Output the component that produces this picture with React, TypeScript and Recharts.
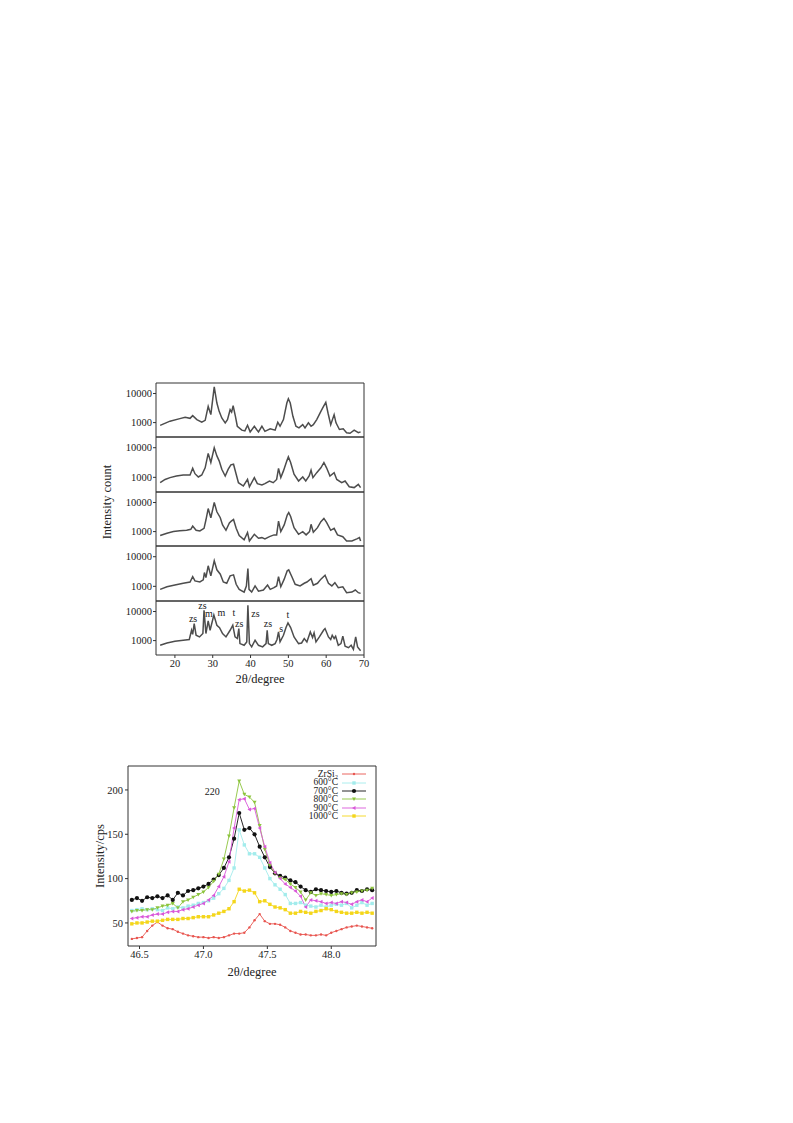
import React from "react";
import {
  LineChart,
  Line,
  XAxis,
  YAxis,
  ReferenceArea,
  ReferenceDot,
  Legend,
} from "recharts";

const serif = "'Liberation Serif', 'Times New Roman', serif";

// XRD scans, top panel to bottom panel: [2θ, counts]
const scan1: [number, number][] = [
  [16.1, 800], [18.7, 1120], [21.3, 1370], [22.7, 1520], [24.0, 1400], [24.7, 1740],
  [25.8, 1270], [27.1, 1030], [28.0, 1200], [28.8, 3600], [29.5, 1880], [30.4, 17000],
  [31.1, 4700], [31.7, 2440], [32.4, 1440], [33.3, 980], [33.9, 1270], [34.6, 2780],
  [35.0, 2300], [35.4, 3800], [36.0, 1650], [36.5, 750], [37.7, 550], [38.5, 520],
  [39.2, 810], [39.9, 480], [41.0, 750], [41.6, 580], [42.1, 480], [43.0, 750],
  [43.8, 500], [45.2, 610], [46.5, 550], [47.2, 1030], [47.8, 750], [48.7, 1270],
  [49.6, 4700], [50.0, 6600], [50.5, 4700], [51.2, 1650], [52.0, 750], [52.8, 660],
  [53.8, 850], [54.4, 660], [55.3, 980], [56.0, 750], [56.6, 850], [57.5, 1270],
  [58.6, 2440], [59.3, 3600], [59.9, 5000], [60.5, 2100], [61.2, 850], [62.1, 1880],
  [62.6, 980], [63.5, 580], [64.5, 610], [65.4, 450], [66.3, 430], [67.4, 550],
  [68.5, 450], [69.1, 480],
];

const scan2: [number, number][] = [
  [16.1, 660], [17.4, 850], [18.7, 980], [20.4, 1110], [22.2, 1200], [24.0, 1200],
  [24.7, 2030], [25.3, 1330], [26.2, 1030], [27.1, 1200], [28.0, 2100], [28.8, 6400],
  [29.5, 3170], [30.4, 10000], [31.1, 5300], [31.7, 3600], [32.4, 1880], [33.3, 1110],
  [34.1, 1880], [34.8, 2630], [35.5, 2780], [36.2, 1270], [36.8, 660], [38.1, 510],
  [39.2, 850], [39.7, 480], [41.0, 980], [41.8, 610], [43.0, 550], [43.8, 610],
  [45.0, 750], [46.0, 660], [46.9, 850], [47.4, 1990], [48.0, 980], [48.7, 1650],
  [49.6, 3600], [50.0, 4900], [50.6, 3170], [51.5, 1270], [52.7, 750], [53.8, 1030],
  [54.6, 750], [55.5, 1110], [56.0, 1740], [56.5, 980], [57.5, 1440], [58.6, 2100],
  [59.4, 3170], [60.1, 2100], [61.0, 1110], [62.1, 1440], [62.8, 850], [64.1, 660],
  [65.0, 750], [66.1, 480], [67.4, 450], [68.5, 580], [69.1, 450],
];

const scan3: [number, number][] = [
  [16.1, 730], [17.9, 880], [19.6, 1000], [21.3, 1080], [23.1, 1110], [24.2, 1200],
  [24.7, 1550], [25.6, 1110], [26.6, 1050], [27.7, 1300], [28.2, 2500], [28.8, 6200],
  [29.5, 3000], [30.4, 10000], [31.1, 4800], [32.0, 3000], [32.6, 1700], [33.5, 1110],
  [34.4, 2000], [34.9, 2300], [35.5, 2600], [36.2, 1300], [37.0, 730], [38.3, 520],
  [39.2, 930], [39.7, 480], [41.0, 810], [42.1, 590], [43.0, 620], [43.8, 560],
  [45.0, 670], [46.2, 770], [46.9, 770], [47.4, 2300], [48.0, 1000], [48.9, 1700],
  [49.7, 3700], [50.1, 4500], [50.6, 3300], [51.5, 1370], [52.7, 810], [53.8, 1000],
  [54.7, 770], [55.6, 1000], [56.0, 1780], [56.6, 950], [57.7, 1370], [58.6, 2200],
  [59.4, 2850], [60.1, 2080], [61.2, 1110], [62.1, 1300], [63.0, 770], [64.4, 670],
  [65.4, 480], [66.8, 480], [68.1, 560], [68.8, 620], [69.1, 480],
];

const scan4: [number, number][] = [
  [16.1, 790], [17.9, 970], [20.0, 1110], [22.2, 1270], [24.0, 1400], [24.7, 2140],
  [25.3, 1520], [26.6, 1400], [27.5, 1650], [27.8, 2930], [28.2, 1970], [28.8, 4940],
  [29.5, 2250], [30.4, 7300], [31.1, 3610], [32.0, 2570], [32.8, 1400], [33.7, 1270],
  [34.6, 2250], [35.5, 2440], [36.2, 1170], [37.0, 790], [38.3, 640], [38.9, 1030],
  [39.3, 4000], [39.6, 790], [40.3, 640], [41.2, 1030], [42.1, 690], [43.4, 750],
  [44.5, 1100], [45.2, 790], [46.2, 900], [46.9, 1030], [47.4, 2140], [48.0, 970],
  [48.9, 1750], [49.7, 3340], [50.1, 3610], [50.9, 2140], [51.8, 1170], [53.1, 1030],
  [54.2, 1270], [54.9, 1400], [56.0, 1820], [56.6, 1100], [57.7, 1270], [58.6, 1750],
  [59.7, 2370], [60.6, 1270], [61.5, 1030], [62.3, 1330], [63.2, 900], [64.4, 970],
  [65.4, 610], [66.8, 640], [67.7, 750], [68.5, 610], [69.1, 580],
];

const scan5: [number, number][] = [
  [16.1, 690], [17.9, 830], [20.0, 950], [22.2, 1030], [23.8, 1090], [24.4, 2270],
  [24.7, 1650], [25.1, 3860], [25.6, 1530], [26.5, 1340], [27.4, 1750], [27.7, 11000],
  [28.2, 1750], [28.8, 4770], [29.3, 2270], [30.3, 7500], [31.1, 3380], [31.8, 2800],
  [32.6, 1750], [33.5, 1340], [34.6, 2270], [35.3, 3380], [35.9, 1340], [36.5, 1180],
  [36.9, 2590], [37.2, 790], [38.3, 690], [39.0, 900], [39.3, 16500], [39.7, 790],
  [40.3, 610], [41.2, 1030], [42.1, 690], [43.2, 610], [44.1, 790], [44.4, 2270],
  [44.7, 790], [45.6, 690], [46.5, 790], [47.0, 1090], [47.4, 1990], [47.8, 900],
  [48.7, 1530], [49.4, 2900], [49.9, 4070], [50.6, 2800], [51.5, 1340], [52.7, 790],
  [53.5, 830], [54.2, 1180], [54.9, 900], [55.8, 1990], [56.4, 1270], [56.8, 1840],
  [57.3, 900], [58.2, 1340], [59.3, 2270], [59.7, 2590], [60.6, 1340], [61.2, 1090],
  [61.6, 1530], [62.1, 1180], [62.5, 1420], [63.2, 690], [63.9, 790], [64.4, 1420],
  [65.0, 640], [65.9, 570], [66.6, 690], [67.2, 500], [67.8, 1340], [68.3, 610],
  [69.1, 450],
];

const scans = [scan1, scan2, scan3, scan4, scan5];

// phase labels on the bottom scan
const peakNotes = [
  { theta: 24.8, count: 6000, text: "zs" },
  { theta: 27.3, count: 16500, text: "zs" },
  { theta: 29.0, count: 8800, text: "m" },
  { theta: 32.3, count: 9000, text: "m" },
  { theta: 35.6, count: 9000, text: "t" },
  { theta: 37.0, count: 3750, text: "zs" },
  { theta: 41.3, count: 8300, text: "zs" },
  { theta: 44.6, count: 3750, text: "zs" },
  { theta: 48.1, count: 2520, text: "s" },
  { theta: 49.9, count: 7700, text: "t" },
];

const xrdTicks = [20, 30, 40, 50, 60, 70];
const countTicks = [1000, 10000];

// (220) peak at several annealing temperatures
const peakTheta = [
  46.44, 46.48, 46.52, 46.56, 46.6, 46.64, 46.68, 46.72, 46.76, 46.8, 46.84, 46.88,
  46.92, 46.96, 47.0, 47.04, 47.08, 47.12, 47.16, 47.2, 47.24, 47.28, 47.32, 47.36,
  47.4, 47.44, 47.48, 47.52, 47.56, 47.6, 47.64, 47.68, 47.72, 47.76, 47.8, 47.84,
  47.88, 47.92, 47.96, 48.0, 48.04, 48.08, 48.12, 48.16, 48.2, 48.24, 48.28, 48.32,
];
const zrsi2 = [
  32, 33, 34, 41, 47, 51, 47, 44, 43, 40, 38, 36, 35, 34, 34, 33, 34, 33, 34, 36,
  38, 38, 39, 45, 53, 60, 52, 49, 49, 48, 45, 41, 39, 37, 37, 36, 36, 37, 36, 39,
  41, 43, 45, 46, 47, 46, 45, 44,
];
const t600 = [
  64, 65, 66, 65, 66, 65, 64, 67, 66, 68, 67, 69, 70, 72, 73, 75, 78, 83, 89, 98,
  112, 155, 138, 128, 128, 124, 112, 100, 93, 88, 82, 72, 72, 73, 70, 69, 68, 70, 68, 70,
  71, 70, 72, 67, 70, 73, 70, 72,
];
const t700 = [
  76, 78, 75, 79, 78, 80, 78, 81, 76, 84, 81, 86, 87, 89, 91, 94, 99, 104, 112, 124,
  145, 174, 155, 157, 150, 136, 124, 113, 106, 103, 101, 98, 96, 91, 87, 85, 88, 87, 86, 85,
  86, 84, 83, 84, 87, 86, 88, 87,
];
const t800 = [
  63, 64, 64, 65, 65, 67, 69, 70, 72, 67, 74, 76, 79, 82, 85, 90, 97, 105, 122, 148,
  180, 210, 195, 192, 186, 160, 133, 115, 106, 101, 99, 94, 90, 85, 76, 84, 81, 83, 82, 81,
  82, 83, 82, 84, 85, 86, 87, 89,
];
const t900 = [
  55, 56, 57, 57, 59, 60, 60, 62, 63, 63, 65, 66, 68, 70, 72, 76, 81, 91, 102, 119,
  157, 189, 190, 178, 179, 157, 136, 118, 107, 100, 94, 90, 86, 80, 68, 76, 75, 74, 72, 73,
  72, 74, 73, 71, 74, 76, 74, 78,
];
const t1000 = [
  49, 50, 50, 51, 52, 52, 53, 54, 54, 54, 55, 55, 56, 57, 57, 57, 59, 61, 63, 66,
  74, 88, 86, 87, 84, 74, 75, 71, 68, 67, 65, 61, 61, 63, 62, 61, 63, 64, 66, 65,
  63, 62, 61, 61, 62, 61, 62, 61,
];
const peakLabel = { theta: 47.07, value: 198, text: "220" };

const tempSeries = [
  { key: "zrsi2", name: "ZrSi\u2082", values: zrsi2, color: "#e8554f", shape: "dot" },
  { key: "t600", name: "600°C", values: t600, color: "#a3ecec", shape: "square" },
  { key: "t700", name: "700°C", values: t700, color: "#111111", shape: "circle" },
  { key: "t800", name: "800°C", values: t800, color: "#8cc43c", shape: "down" },
  { key: "t900", name: "900°C", values: t900, color: "#d957d9", shape: "left" },
  { key: "t1000", name: "1000°C", values: t1000, color: "#f4d61a", shape: "square" },
];

const peakRows = peakTheta.map((theta, i) => {
  const row: Record<string, number> = { theta };
  tempSeries.forEach((s) => {
    row[s.key] = s.values[i];
  });
  return row;
});

const PANEL_TOPS = [383, 437, 492, 546, 601, 655];

function drawMarker(shape: string, color: string, cx: number, cy: number, k?: React.Key) {
  switch (shape) {
    case "dot":
      return <circle key={k} cx={cx} cy={cy} r={1.2} fill={color} />;
    case "circle":
      return <circle key={k} cx={cx} cy={cy} r={2.1} fill={color} />;
    case "square":
      return <rect key={k} x={cx - 1.7} y={cy - 1.7} width={3.4} height={3.4} fill={color} />;
    case "down":
      return (
        <polygon key={k} points={`${cx - 2},${cy - 1.5} ${cx + 2},${cy - 1.5} ${cx},${cy + 2}`} fill={color} />
      );
    default:
      return (
        <polygon key={k} points={`${cx + 1.5},${cy - 2} ${cx + 1.5},${cy + 2} ${cx - 2},${cy}`} fill={color} />
      );
  }
}

function markerFor(shape: string, color: string) {
  return (props: any) => {
    const { cx, cy, index } = props;
    if (cx == null || cy == null) return <g key={index} />;
    return drawMarker(shape, color, cx, cy, index);
  };
}

function TempLegend() {
  return (
    <div style={{ fontFamily: serif, fontSize: 9.5, color: "#222" }}>
      {tempSeries.map((s) => (
        <div key={s.key} style={{ display: "flex", alignItems: "center", height: 8.4 }}>
          <span style={{ width: 46, textAlign: "right", lineHeight: "8.4px", whiteSpace: "nowrap" }}>
            {s.name}
          </span>
          <svg width={28} height={8} style={{ marginLeft: 4 }}>
            <line x1={0} x2={24} y1={4} y2={4} stroke={s.color} strokeWidth={0.9} />
            {drawMarker(s.shape, s.color, 12, 4)}
          </svg>
        </div>
      ))}
    </div>
  );
}

function XrdPanel({ index }: { index: number }) {
  const last = index === scans.length - 1;
  const top = PANEL_TOPS[index];
  const plotH = PANEL_TOPS[index + 1] - top;
  const axisH = last ? 34 : 4;
  const data = scans[index].map(([theta, count]) => ({ theta, count }));
  return (
    <div style={{ position: "absolute", left: 109, top: top - 1 }}>
      <LineChart
        width={261}
        height={1 + plotH + axisH}
        data={data}
        margin={{ top: 1, right: 6, bottom: 0, left: 0 }}
      >
        <XAxis
          dataKey="theta"
          type="number"
          domain={[15, 70]}
          ticks={xrdTicks}
          allowDataOverflow
          height={axisH}
          axisLine={false}
          tickLine={{ stroke: "#333" }}
          tickSize={3}
          tick={last ? { fontSize: 10.5, fill: "#222", fontFamily: serif } : false}
          label={
            last
              ? {
                  value: "2θ/degree",
                  position: "insideBottom",
                  offset: 6,
                  style: { fontSize: 12.5, fill: "#222", fontFamily: serif },
                }
              : undefined
          }
        />
        <YAxis
          type="number"
          scale="log"
          domain={[320, 23000]}
          allowDataOverflow
          ticks={countTicks}
          width={47}
          axisLine={false}
          tickLine={{ stroke: "#333" }}
          tickSize={3}
          tickMargin={1}
          tick={{ fontSize: 10.5, fill: "#222", fontFamily: serif }}
        />
        <ReferenceArea
          x1={15}
          x2={70}
          y1={320}
          y2={23000}
          fill="none"
          stroke="#333"
          strokeWidth={1}
          ifOverflow="visible"
        />
        <Line
          dataKey="count"
          type="linear"
          stroke="#4d4d4d"
          strokeWidth={1.5}
          dot={false}
          isAnimationActive={false}
        />
        {last &&
          peakNotes.map((n, i) => (
            <ReferenceDot
              key={i}
              x={n.theta}
              y={n.count}
              r={0}
              stroke="none"
              label={{
                value: n.text,
                position: "center",
                style: { fontSize: 10, fill: "#222", fontFamily: serif },
              }}
            />
          ))}
      </LineChart>
    </div>
  );
}

export default function App() {
  return (
    <div style={{ position: "absolute", left: 0, top: 0, width: 793, height: 1123, fontFamily: serif }}>
      {scans.map((_, i) => (
        <XrdPanel key={i} index={i} />
      ))}
      <div
        style={{
          position: "absolute",
          left: 107,
          top: 502,
          transform: "translate(-50%, -50%) rotate(-90deg)",
          whiteSpace: "nowrap",
          fontSize: 12.5,
          color: "#222",
        }}
      >
        Intensity count
      </div>

      <div style={{ position: "absolute", left: 88, top: 764 }}>
        <LineChart
          width={290}
          height={218}
          data={peakRows}
          margin={{ top: 2, right: 2, bottom: 0, left: 0 }}
        >
          <XAxis
            dataKey="theta"
            type="number"
            domain={[46.41, 48.35]}
            ticks={[46.5, 47, 47.5, 48]}
            tickFormatter={(v: number) => v.toFixed(1)}
            allowDataOverflow
            height={36}
            axisLine={false}
            tickLine={{ stroke: "#333" }}
            tickSize={3}
            tick={{ fontSize: 10.5, fill: "#222", fontFamily: serif }}
            label={{
              value: "2θ/degree",
              position: "insideBottom",
              offset: 6,
              style: { fontSize: 12.5, fill: "#222", fontFamily: serif },
            }}
          />
          <YAxis
            type="number"
            domain={[24, 227]}
            ticks={[50, 100, 150, 200]}
            allowDataOverflow
            width={40}
            axisLine={false}
            tickLine={{ stroke: "#333" }}
            tickSize={3}
            tickMargin={2}
            tick={{ fontSize: 10.5, fill: "#222", fontFamily: serif }}
            label={{
              value: "Intensity/cps",
              angle: -90,
              position: "insideLeft",
              offset: 12,
              style: { fontSize: 12.5, fill: "#222", fontFamily: serif, textAnchor: "middle" },
            }}
          />
          <ReferenceArea
            x1={46.41}
            x2={48.35}
            y1={24}
            y2={227}
            fill="none"
            stroke="#333"
            strokeWidth={1}
            ifOverflow="visible"
          />
          {tempSeries.map((s) => (
            <Line
              key={s.key}
              dataKey={s.key}
              name={s.name}
              type="linear"
              stroke={s.color}
              strokeWidth={0.9}
              dot={markerFor(s.shape, s.color)}
              isAnimationActive={false}
            />
          ))}
          <ReferenceDot
            x={peakLabel.theta}
            y={peakLabel.value}
            r={0}
            stroke="none"
            label={{
              value: peakLabel.text,
              position: "center",
              style: { fontSize: 10, fill: "#222", fontFamily: serif },
            }}
          />
          <Legend
            layout="vertical"
            align="center"
            verticalAlign="middle"
            content={() => <TempLegend />}
            wrapperStyle={{ left: 204, top: 6, width: 80 }}
          />
        </LineChart>
      </div>
    </div>
  );
}
